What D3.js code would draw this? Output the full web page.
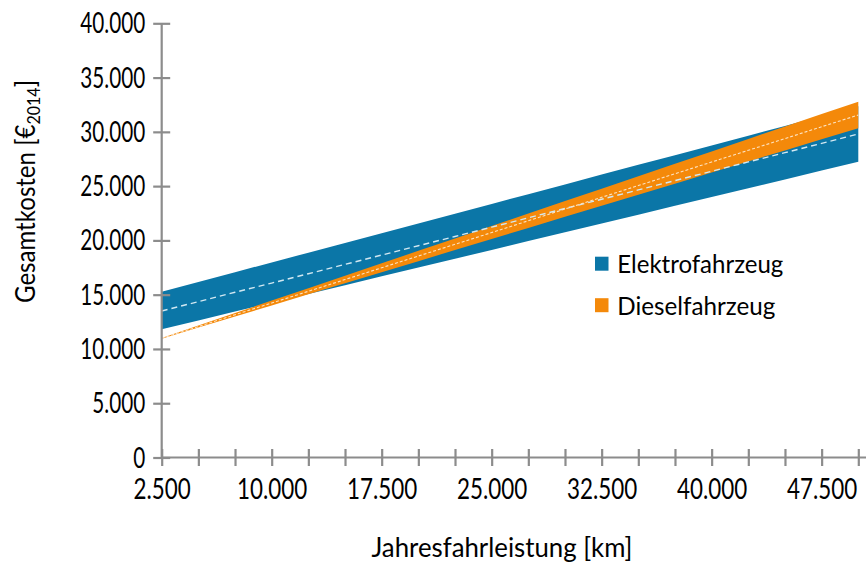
<!DOCTYPE html>
<html><head><meta charset="utf-8">
<script src="https://cdn.jsdelivr.net/npm/d3@7"></script>
<style>
html,body{margin:0;padding:0;background:#fff;}
svg{display:block;font-family:Lato,"Open Sans",sans-serif;}
</style></head>
<body><svg id="c" width="866" height="565"></svg>
<script>
// ---- data (Jahresfahrleistung in km, Gesamtkosten in €2014) ----
const km = [2500,5000,7500,10000,12500,15000,17500,20000,22500,25000,27500,30000,32500,35000,37500,40000,42500,45000,47500,50000];
const elektroMin  = [11810,12620,13440,14250,15060,15870,16690,17500,18310,19120,19940,20750,21560,22370,23190,24000,24810,25620,26440,27250];
const elektroMean = [13500,14360,15220,16070,16930,17790,18650,19510,20360,21220,22080,22940,23790,24650,25510,26370,27230,28080,28940,29800];
const elektroMax  = [15270,16170,17070,17970,18870,19760,20660,21560,22460,23360,24260,25160,26060,26960,27850,28750,29650,30550,31450,32350];
const dieselMin   = [10950,11970,12990,14010,15030,16050,17070,18090,19110,20130,21150,22170,23190,24210,25230,26250,27270,28290,29310,30330];
const dieselMean  = [10980,12060,13150,14230,15310,16390,17480,18560,19640,20720,21810,22890,23970,25050,26140,27220,28300,29380,30470,31550];
const dieselMax   = [11020,12170,13310,14460,15600,16750,17890,19040,20180,21330,22470,23620,24760,25910,27050,28200,29350,30490,31640,32780];
const xLabelValues = [2500,10000,17500,25000,32500,40000,47500];
const yTickValues = [0,5000,10000,15000,20000,25000,30000,35000,40000];
const seriesNames = ["Elektrofahrzeug","Dieselfahrzeug"];
const xTitle = "Jahresfahrleistung [km]";

// ---- styles ----
const BLUE = "#0b76a7", ORANGE = "#f4890a", AXIS = "#8c8c8c";

const svg = d3.select("#c");
const de = d3.formatLocale({decimal:",",thousands:".",grouping:[3],currency:["","€"]});
const fmt = de.format(",d");

const x = d3.scaleLinear().domain([2500,50000]).range([161.7,858.3]);
const y = d3.scaleLinear().domain([0,40000]).range([457.5,23.3]);

const idx = d3.range(km.length);
function band(lo,hi){ return d3.area().x(i=>x(km[i])).y0(i=>y(lo[i])).y1(i=>y(hi[i])); }
function line(v){ return d3.line().x(i=>x(km[i])).y(i=>y(v[i])); }

// areas
svg.append("path").attr("d",band(elektroMin,elektroMax)(idx)).attr("fill",BLUE);
svg.append("path").attr("d",band(dieselMin,dieselMax)(idx)).attr("fill",ORANGE);
// mean lines
svg.append("path").attr("d",line(elektroMean)(idx)).attr("fill","none")
  .attr("stroke","#d2e8f2").attr("stroke-width",1.4).attr("stroke-dasharray","6,4");
svg.append("path").attr("d",line(dieselMean)(idx)).attr("fill","none")
  .attr("stroke","#fde3c2").attr("stroke-width",1.1).attr("stroke-dasharray","3,2");

// y axis
const yAxis = svg.append("g").attr("transform","translate(161.7,0)")
  .call(d3.axisLeft(y).tickValues(yTickValues).tickFormat(fmt).tickSize(0).tickPadding(0));
yAxis.select(".domain").remove();
yAxis.append("line").attr("x1",0).attr("x2",0).attr("y1",y(40000)).attr("y2",y(0))
  .attr("stroke",AXIS).attr("stroke-width",2.2);
yAxis.selectAll(".tick").append("line").attr("x1",-8.5).attr("x2",8.5)
  .attr("stroke",AXIS).attr("stroke-width",2.2);
yAxis.selectAll(".tick text").attr("x",0).attr("dy",null).attr("y",9.5)
  .attr("transform","translate(-16.5,0) scale(0.74,1)")
  .attr("font-family","Lato").attr("font-size",28).attr("fill","#000").attr("text-anchor","end");

// x axis
const xAxis = svg.append("g").attr("transform","translate(0,457.5)")
  .call(d3.axisBottom(x).tickValues(km).tickSize(0).tickPadding(0)
    .tickFormat(v => xLabelValues.includes(v) ? fmt(v) : ""));
xAxis.select(".domain").remove();
xAxis.append("line").attr("x1",x(2500)).attr("x2",866).attr("y1",0).attr("y2",0)
  .attr("stroke",AXIS).attr("stroke-width",2.2);
xAxis.selectAll(".tick").append("line").attr("y1",-8.5).attr("y2",8.5)
  .attr("stroke",AXIS).attr("stroke-width",2.2);
xAxis.selectAll(".tick text").attr("dy",null).attr("y",41.5)
  .attr("transform","scale(0.8,1)")
  .attr("font-family","Lato").attr("font-size",28).attr("fill","#000").attr("text-anchor","middle");

// axis titles
const yt = svg.append("text").attr("transform","translate(35,191.5) rotate(-90)")
  .attr("text-anchor","middle").attr("font-size",27).attr("fill","#000");
yt.append("tspan").text("Gesamtkosten [€");
yt.append("tspan").attr("font-size",18).attr("dy",5).text("2014");
yt.append("tspan").attr("dy",-5).text("]");
yt.attr("textLength",223).attr("lengthAdjust","spacingAndGlyphs");

svg.append("text").attr("x",502).attr("y",557).attr("text-anchor","middle")
  .attr("font-size",26).attr("fill","#000").text(xTitle)
  .attr("textLength",261).attr("lengthAdjust","spacingAndGlyphs");

// legend
const lg = svg.append("g");
const legendColors = [BLUE, ORANGE];
const legendLen = [166,158];
seriesNames.forEach((n,i)=>{
  const gy = 256.7 + i*41.5;
  lg.append("rect").attr("x",595).attr("y",gy).attr("width",13.5).attr("height",14).attr("fill",legendColors[i]);
  lg.append("text").attr("x",617.3).attr("y",gy+16.7).attr("font-size",25.5).attr("fill","#000")
    .attr("textLength",legendLen[i]).attr("lengthAdjust","spacingAndGlyphs").text(n);
});
</script></body></html>
